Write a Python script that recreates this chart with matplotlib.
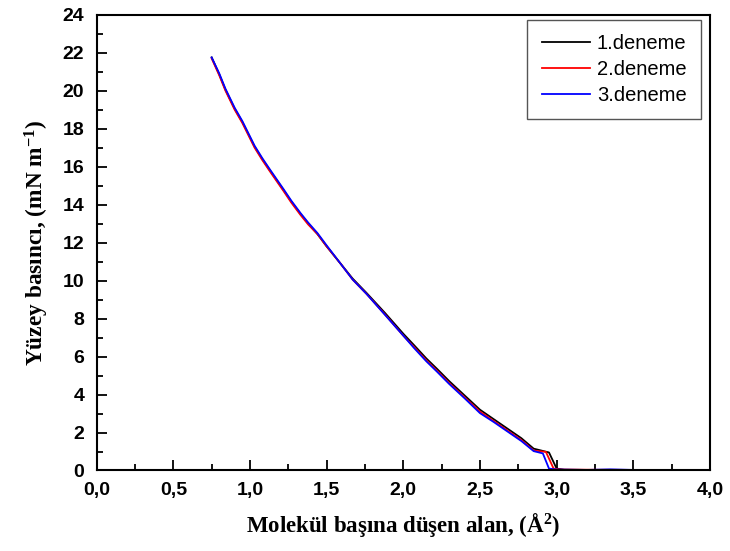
import matplotlib
matplotlib.use("Agg")
import matplotlib.pyplot as plt
from matplotlib.ticker import MultipleLocator, FuncFormatter

plt.rcParams["mathtext.fontset"] = "custom"
plt.rcParams["mathtext.rm"] = "Liberation Serif:bold"
plt.rcParams["mathtext.bf"] = "Liberation Serif:bold"
plt.rcParams["mathtext.it"] = "Liberation Serif:bold"

# --- data ---
x1 = [0.75, 0.80, 0.84, 0.90, 0.95, 1.03, 1.08, 1.13, 1.22, 1.27, 1.33, 1.38, 1.44, 1.50, 1.59, 1.67, 1.76, 1.88, 2.00, 2.07, 2.15, 2.22, 2.30, 2.40, 2.50, 2.59, 2.68, 2.77, 2.85, 2.95, 3.00, 3.05, 3.20, 3.50, 3.80, 4.00]
y1 = [21.75, 20.85, 20.05, 19.05, 18.35, 17.05, 16.40, 15.80, 14.75, 14.15, 13.50, 13.00, 12.45, 11.80, 10.90, 10.10, 9.35, 8.30, 7.20, 6.60, 5.90, 5.35, 4.70, 3.95, 3.20, 2.70, 2.20, 1.70, 1.15, 0.95, 0.10, 0.04, 0.03, 0.02, 0.02, 0.02]

x2 = [0.75, 0.80, 0.84, 0.90, 0.95, 1.03, 1.08, 1.13, 1.22, 1.27, 1.33, 1.38, 1.44, 1.50, 1.59, 1.67, 1.76, 1.88, 2.00, 2.07, 2.15, 2.22, 2.30, 2.40, 2.50, 2.59, 2.68, 2.77, 2.85, 2.93, 2.98, 3.03, 3.20, 3.50, 3.80, 4.00]
y2 = [21.70, 20.80, 20.00, 19.00, 18.30, 17.00, 16.35, 15.75, 14.70, 14.10, 13.45, 12.95, 12.45, 11.80, 10.90, 10.05, 9.30, 8.22, 7.10, 6.50, 5.80, 5.25, 4.60, 3.85, 3.10, 2.60, 2.10, 1.60, 1.05, 0.98, 0.10, 0.05, 0.04, 0.03, 0.02, 0.02]

x3 = [0.75, 0.80, 0.84, 0.90, 0.95, 1.03, 1.08, 1.13, 1.22, 1.27, 1.33, 1.38, 1.44, 1.50, 1.59, 1.67, 1.76, 1.88, 2.00, 2.07, 2.15, 2.22, 2.30, 2.40, 2.50, 2.59, 2.68, 2.77, 2.85, 2.91, 2.95, 3.00, 3.20, 3.35, 3.50, 3.80, 4.00]
y3 = [21.75, 20.90, 20.10, 19.10, 18.40, 17.10, 16.45, 15.85, 14.80, 14.20, 13.55, 13.05, 12.50, 11.85, 10.90, 10.05, 9.30, 8.20, 7.10, 6.45, 5.75, 5.20, 4.55, 3.80, 3.02, 2.55, 2.05, 1.55, 1.02, 0.90, 0.10, 0.05, 0.03, 0.06, 0.03, 0.02, 0.02]

labels = ["1.deneme", "2.deneme", "3.deneme"]
colors = ["black", "red", "blue"]

fig = plt.figure(figsize=(7.30, 5.51), dpi=100)
ax = fig.add_axes([0.1324, 0.1461, 0.9726 - 0.1324, 0.9733 - 0.1461])

for xs, ys, lab, c in zip([x1, x2, x3], [y1, y2, y3], labels, colors):
    ax.plot(xs, ys, color=c, lw=1.3, label=lab)

ax.set_xlim(0, 4.0)
ax.set_ylim(0, 24)
ax.xaxis.set_major_locator(MultipleLocator(0.5))
ax.xaxis.set_minor_locator(MultipleLocator(0.25))
ax.yaxis.set_major_locator(MultipleLocator(2))
ax.yaxis.set_minor_locator(MultipleLocator(1))
ax.xaxis.set_major_formatter(FuncFormatter(lambda v, p: f"{v:.1f}".replace(".", ",")))
ax.yaxis.set_major_formatter(FuncFormatter(lambda v, p: f"{v:.0f}"))

ax.tick_params(which="both", direction="in", top=False, right=False, width=1.3)
ax.tick_params(which="major", length=7)
ax.tick_params(which="minor", length=4)
ax.tick_params(axis="x", pad=8)
ax.tick_params(axis="y", pad=9)
for sp in ax.spines.values():
    sp.set_linewidth(1.5)

for t in ax.get_xticklabels() + ax.get_yticklabels():
    t.set_fontfamily("Liberation Sans")
    t.set_fontweight("bold")
    t.set_fontsize(14)

ax.set_xlabel("Molekül başına düşen alan, (Å$^{2}$)", fontfamily="Liberation Serif",
              fontweight="bold", fontsize=16.5, labelpad=9)
ax.set_ylabel("Yüzey basıncı, (mN m$^{-1}$)", fontfamily="Liberation Serif",
              fontweight="bold", fontsize=16.8, labelpad=8)

leg = ax.legend(loc="upper right", bbox_to_anchor=(0.985, 0.988), borderaxespad=0,
                fancybox=False, framealpha=1, edgecolor="#555555",
                prop={"family": "Liberation Sans", "size": 14.5},
                handlelength=2.4, handletextpad=0.35, labelspacing=0.35,
                borderpad=0.7)
leg.get_frame().set_linewidth(1.0)

fig.savefig("out.png", dpi=100)
